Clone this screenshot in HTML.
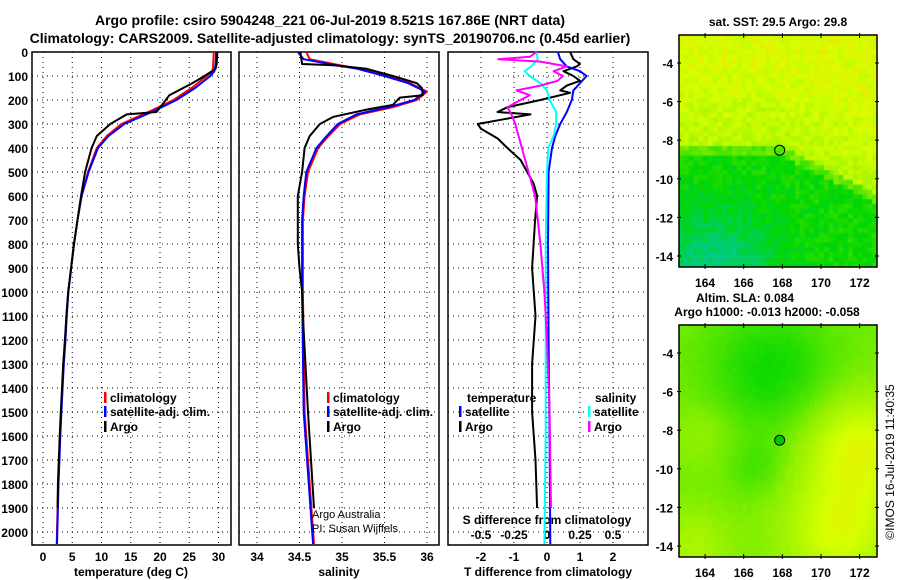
<!DOCTYPE html>
<html><head><meta charset="utf-8"><style>
body{margin:0;background:#fff;}
#wrap{position:relative;width:900px;height:580px;overflow:hidden;background:#fff;}
svg text{font-family:"Liberation Sans",sans-serif;font-weight:bold;fill:#000;}
canvas{position:absolute;}
</style></head><body>
<div id="wrap">
<canvas id="map1" width="198" height="232" style="left:679px;top:35px"></canvas>
<canvas id="map2" width="198" height="232" style="left:679px;top:325px"></canvas>
<svg id="svg" width="900" height="580" style="position:absolute;left:0;top:0"></svg>
</div>
<script>
// ---- data ----
const tDepth = [0,50,80,100,150,200,250,300,350,400,500,600,700,800,900,1000,1100,1200,1300,1400,1500,1600,1700,1800,1900,2000,2050];
const tClim = [29.2,29.1,29.0,28.0,25.4,22.3,18.0,13.4,10.9,9.2,7.7,6.6,5.9,5.3,4.8,4.3,4.0,3.8,3.5,3.3,3.1,2.9,2.75,2.6,2.5,2.4,2.35];
const tSat  = [29.6,29.5,29.3,28.6,26.0,22.8,18.6,13.9,11.2,9.4,7.8,6.6,5.9,5.3,4.8,4.35,4.05,3.85,3.55,3.35,3.15,2.95,2.8,2.65,2.55,2.45,2.4];
const aDepth = [0,50,70,100,130,180,200,250,260,300,350,400,500,600,700,800,900,1000,1100,1200,1300,1400,1500,1600,1700,1800,1900];
const tArgo = [29.8,29.7,29.5,27.6,25.5,21.6,21.0,19.4,14.3,11.5,9.2,8.3,7.2,6.5,5.9,5.3,4.8,4.3,4.0,3.75,3.45,3.25,3.05,2.85,2.7,2.55,2.5];
const sDepth = [0,30,50,70,100,130,165,200,230,260,300,350,400,500,600,700,1000,1500,2000,2050];
const sClim = [34.58,34.62,34.9,35.2,35.53,35.8,36.0,35.88,35.6,35.21,34.98,34.84,34.72,34.6,34.56,34.54,34.54,34.56,34.66,34.67];
const sSat  = [34.48,34.55,34.85,35.18,35.5,35.78,35.98,35.85,35.55,35.17,34.95,34.82,34.7,34.58,34.55,34.53,34.53,34.55,34.65,34.66];
const saDepth = [0,50,55,70,100,130,150,180,190,220,240,270,300,350,400,500,600,800,900,1000,1100,1500,1900];
const sArgo = [34.51,34.53,34.9,35.29,35.6,35.88,35.94,35.95,35.68,35.6,35.29,34.9,34.74,34.62,34.56,34.53,34.48,34.48,34.5,34.53,34.54,34.6,34.67];
const dtDepth = [0,30,50,60,80,100,120,140,160,170,200,230,250,260,280,300,320,360,400,450,500,550,600,700,900,1100,1300,1500,1700,1900];
const dtArgo = [0.7,0.8,1.0,0.9,0.5,0.8,1.0,0.6,0.4,0.7,-0.2,-1.2,-1.5,-0.5,-1.3,-2.1,-2.0,-1.5,-1.2,-0.8,-0.6,-0.4,-0.3,-0.36,-0.45,-0.35,-0.45,-0.45,-0.35,-0.3];
const dsDepth = [0,30,60,80,100,130,160,200,250,300,350,400,500,800,1200,1600,2050];
const dtSat = [0.33,0.4,0.6,1.0,1.2,1.0,0.8,0.75,0.6,0.4,0.25,0.15,0.05,0.03,0.05,0.08,0.1];
const dsSat = [-0.08,-0.07,-0.12,-0.17,-0.13,-0.05,0,0.02,0.07,0.07,0.05,0.01,0,-0.01,-0.01,-0.01,-0.02];
const dmDepth = [0,20,30,40,60,80,100,120,140,160,180,200,230,260,300,400,500,600,800,1000,1200,1500,1900];
const dsArgo = [-0.08,-0.13,-0.37,-0.05,0.15,0.05,0.12,0.08,-0.05,-0.23,-0.13,-0.2,-0.3,-0.27,-0.24,-0.19,-0.14,-0.09,-0.05,-0.02,0.0,0.02,0.03];
const depthTicks = [0,100,200,300,400,500,600,700,800,900,1000,1100,1200,1300,1400,1500,1600,1700,1800,1900,2000];
const tTicks = [0,5,10,15,20,25,30];
const sTicks = [34,34.5,35,35.5,36];
const dTTicks = [-2,-1,0,1,2];
const dSTicks = [-0.5,-0.25,0,0.25,0.5];
const dSLabels = ['-0.5','-0.25','0','0.25','0.5'];
const latTicks = [-4,-6,-8,-10,-12,-14];
const lonTicks = [164,166,168,170,172];

// ---- scales ----
const yD = d => 52 + d*0.24;
const xT = t => 43 + t*5.85;
const xS = s => 257 + (s-34)*85;
const xDT = t => 547 + t*33;
const xDS = s => 547 + s*132;
const svg = document.getElementById('svg');
const NS = 'http://www.w3.org/2000/svg';
function mk(tag, attrs, parent){const e=document.createElementNS(NS,tag);for(const k in attrs)e.setAttribute(k,attrs[k]);(parent||svg).appendChild(e);return e;}
function txt(x,y,s,size,anchor){const e=mk('text',{x:x,y:y,'font-size':size,'text-anchor':anchor||'middle'});e.textContent=s;return e;}

const panels=[{x0:32,x1:231},{x0:239,x1:439},{x0:448,x1:648}];
const PT=52, PB=545;
panels.forEach((p,i)=>{
  const g=mk('g',{});
  
  
  depthTicks.forEach(d=>{const l=mk('line',{x1:p.x0,x2:p.x1,y1:yD(d),y2:yD(d),stroke:'#000','stroke-dasharray':'1,4','stroke-width':1},g);
    });
  const xt = i==0?tTicks.map(xT):i==1?sTicks.map(xS):dTTicks.map(xDT);
  xt.forEach(x=>{const l=mk('line',{x1:x,x2:x,y1:PT,y2:PB,stroke:'#000','stroke-dasharray':'1,4','stroke-width':1},g);
    });
  const r=mk('rect',{x:p.x0,y:PT,width:p.x1-p.x0,height:PB-PT,fill:'none',stroke:'#000','stroke-width':1.5},g);
  
});
depthTicks.forEach(d=>{const t=txt(28,yD(d)+5,String(d),12,'end');});
tTicks.forEach(v=>{const t=txt(xT(v),561,String(v),12);});
sTicks.forEach(v=>{const t=txt(xS(v),561,String(v),12);});
dTTicks.forEach(v=>{const t=txt(xDT(v),561,String(v),12);});
dSTicks.forEach((v,i)=>{const t=txt(xDS(v),539,dSLabels[i],12);});
let e;
e=txt(131,576,'temperature (deg C)',12);
e=txt(339,576,'salinity',12);
e=txt(548,576,'T difference from climatology',12);
e=txt(547,524,'S difference from climatology',12);
e=txt(330,25,'Argo profile: csiro 5904248_221 06-Jul-2019 8.521S 167.86E (NRT data)',14);
e=txt(330,43,'Climatology: CARS2009. Satellite-adjusted climatology: synTS_20190706.nc (0.45d earlier)',14);

function line(xs,ds,xf,color,name,w){
  const pts=xs.map((v,i)=>xf(v).toFixed(1)+','+yD(ds[i]).toFixed(1)).join(' ');
  const l=mk('polyline',{points:pts,fill:'none',stroke:color,'stroke-width':w||2,'stroke-linejoin':'round'});
  
}
line(tClim,tDepth,xT,'#f00','temp-climatology-line');
line(tSat,tDepth,xT,'#00f','temp-satellite-line');
line(tArgo,aDepth,xT,'#000','temp-argo-line');
line(sClim,sDepth,xS,'#f00','sal-climatology-line');
line(sSat,sDepth,xS,'#00f','sal-satellite-line');
line(sArgo,saDepth,xS,'#000','sal-argo-line');
line(dtArgo,dtDepth,xDT,'#000','tdiff-argo-line');
line(dtSat,dsDepth,xDT,'#00f','tdiff-satellite-line');
line(dsSat,dsDepth,xDS,'#0ff','sdiff-satellite-line');
line(dsArgo,dmDepth,xDS,'#f0f','sdiff-argo-line');

function legend(x,y,color,label,name){
  const r=mk('rect',{x:x,y:y-10,width:2.5,height:11,fill:color});
  
  const t=txt(x+6,y,label,12,'start');
}
legend(104,402,'#f00','climatology','legend-climatology');
legend(104,416,'#00f','satellite-adj. clim.','legend-satellite');
legend(104,431,'#000','Argo','legend-argo');
legend(327,402,'#f00','climatology','legend2-climatology');
legend(327,416,'#00f','satellite-adj. clim.','legend2-satellite');
legend(327,431,'#000','Argo','legend2-argo');
e=txt(467,402,'temperature',12,'start');
legend(459,416,'#00f','satellite','legend-t-satellite');
legend(459,431,'#000','Argo','legend-t-argo');
e=txt(595,402,'salinity',12,'start');
legend(588,416,'#0ff','satellite','legend-s-satellite');
legend(588,431,'#f0f','Argo','legend-s-argo');
e=txt(312,518,'Argo Australia',11,'start');e.style.fontWeight='normal';
e=txt(312,532,'PI: Susan Wijffels',11,'start');e.style.fontWeight='normal';

// ---- maps ----
const lonMin=162.65, lonMax=172.9, latMax=-2.55, latMin=-14.57;
const mx=lon=>679+(lon-lonMin)/(lonMax-lonMin)*198;
const my=lat=>35+(latMax-lat)/(latMax-latMin)*232;
const stops=[[0,[0,200,170]],[0.3,[0,215,0]],[0.6,[140,240,0]],[0.85,[215,255,0]],[1,[240,225,0]]];
function cmap(v){v=Math.max(0,Math.min(1,v));for(let i=1;i<stops.length;i++){if(v<=stops[i][0]){const a=stops[i-1],b=stops[i];const f=(v-a[0])/(b[0]-a[0]);return 'rgb('+a[1].map((c,k)=>Math.round(c+(b[1][k]-c)*f)).join(',')+')';}}return 'rgb(240,225,0)';}
function hash(i,j){let h=(i*374761393+j*668265263)>>>0;h=((h^(h>>>13))*1274126177)>>>0;return ((h^(h>>>16))>>>0)/4294967296;}
const g2=(lon,lat,cx,cy,s)=>Math.exp(-((lon-cx)**2+(lat-cy)**2)/(2*s*s));
function f1(lon,lat){const b=-8.3-Math.max(0,lon-168)*0.5;
  if(lat>b){return 0.74+0.12*Math.min(1,(lat-b)/4.5);}
  if(lat>b-0.5)return 0.5;
  return 0.33-0.25*g2(lon,lat,164.5,-14.5,2.2);}
function f2(lon,lat){return 0.55-0.22*g2(lon,lat,167.3,-4.8,2.3)+0.33*g2(lon,lat,171.8,-8.8,2.0)+0.3*g2(lon,lat,170.8,-13.2,2.0)+0.15*g2(lon,lat,163.3,-13.8,1.3)-0.1*g2(lon,lat,166.5,-9.8,1.0)+0.08*g2(lon,lat,163.8,-8,1.2);}
function drawMap(id,f,cell,noise){const c=document.getElementById(id).getContext('2d');
  for(let lon=lonMin;lon<lonMax;lon+=cell)for(let lat=latMax;lat>latMin;lat-=cell){
    const i=Math.round(lon/cell),j=Math.round(lat/cell);
    c.fillStyle=cmap(f(lon,lat)+(hash(i,j)-0.5)*noise);
    c.fillRect(mx(lon)-679,my(lat)-35,cell*19.4+1,cell*19.4+1);}}
drawMap('map1',f1,0.25,0.14);
drawMap('map2',f2,0.25,0.02);
[35,325].forEach((top,k)=>{
  const g=mk('g',{});
  const off=top-35;
  mk('rect',{x:679,y:top,width:198,height:232,fill:'none',stroke:'#000','stroke-width':1.5},g);
  latTicks.forEach(l=>{const y=my(l)+off;mk('line',{x1:677,x2:681,y1:y,y2:y,stroke:'#000'},g);mk('line',{x1:875,x2:879,y1:y,y2:y,stroke:'#000'},g);
    const t=txt(673,y+5,String(l),12,'end');});
  lonTicks.forEach(l=>{const x=mx(l);mk('line',{x1:x,x2:x,y1:top+232-3,y2:top+234,stroke:'#000'},g);mk('line',{x1:x,x2:x,y1:top-2,y2:top+3,stroke:'#000'},g);
    const t=txt(x,top+252,String(l),12);});
  const c=mk('circle',{cx:mx(167.86),cy:my(-8.521)+off,r:5,fill:k?'#00c800':'none',stroke:'#000','stroke-width':1},g);
  
});
e=txt(778,26,'sat. SST: 29.5 Argo: 29.8',12);
e=txt(745,302,'Altim. SLA: 0.084',12);
e=txt(767,316,'Argo h1000: -0.013 h2000: -0.058',12);
e=txt(0,0,'©IMOS 16-Jul-2019 11:40:35',12);e.style.fontWeight='normal';e.setAttribute('transform','translate(894,462) rotate(-90)');
</script>
</body></html>
